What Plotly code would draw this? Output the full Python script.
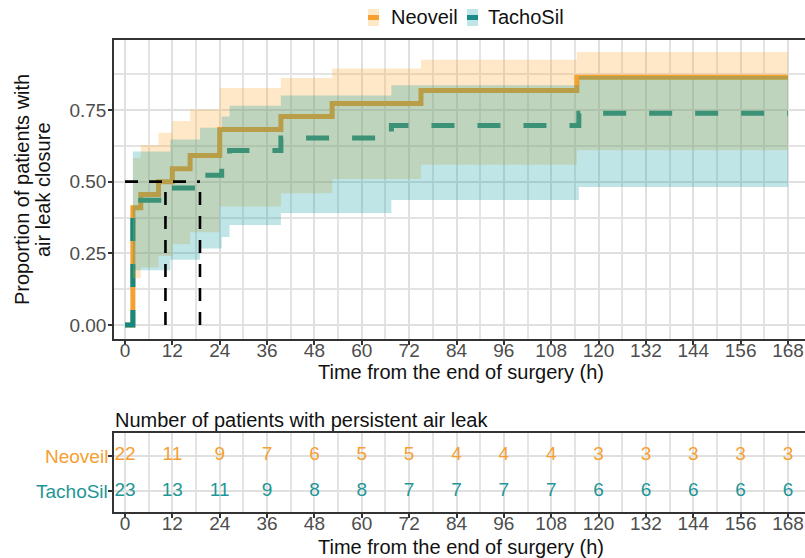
import plotly.graph_objects as go

# ---------------- data ----------------
groups = ["Neoveil", "TachoSil"]

neo_times = [0, 2, 4, 8.5, 12, 16.5, 24, 39.5, 52.5, 75, 114.5, 168]
neo_prop = [0, 0.409, 0.455, 0.500, 0.545, 0.591, 0.682, 0.727, 0.773, 0.818, 0.864, 0.864]
neo_lower = [0, 0.163, 0.201, 0.241, 0.282, 0.324, 0.413, 0.460, 0.509, 0.559, 0.610, 0.610]
neo_upper = [0, 0.583, 0.628, 0.671, 0.712, 0.752, 0.827, 0.862, 0.895, 0.925, 0.952, 0.952]

tacho_times = [0, 2, 11.5, 19, 24.5, 26.5, 39.5, 67.5, 115, 168]
tacho_prop = [0, 0.435, 0.478, 0.522, 0.565, 0.609, 0.652, 0.696, 0.739, 0.739]
tacho_lower = [0, 0.191, 0.228, 0.267, 0.307, 0.349, 0.391, 0.436, 0.481, 0.481]
tacho_upper = [0, 0.605, 0.647, 0.688, 0.727, 0.765, 0.801, 0.836, 0.869, 0.869]

median_times = [10.25, 19.0]
median_level = 0.5

risk_times = [0, 12, 24, 36, 48, 60, 72, 84, 96, 108, 120, 132, 144, 156, 168]
neo_risk = [22, 11, 9, 7, 6, 5, 5, 4, 4, 4, 3, 3, 3, 3, 3]
tacho_risk = [23, 13, 11, 9, 8, 8, 7, 7, 7, 7, 6, 6, 6, 6, 6]

y_ticks = [0, 0.25, 0.5, 0.75]
y_ticktext = ["0.00", "0.25", "0.50", "0.75"]

# ---------------- styling ----------------
W, H = 805, 558
FONT = "Liberation Sans, Arial, sans-serif"
ORANGE = "#F5A031"
TEAL = "#14897F"
TEAL_TXT = "#1F9696"
ORANGE_RIB = "rgba(255,165,40,0.26)"
TEAL_RIB = "rgba(0,150,160,0.25)"
GRID = "#E0E0E0"
GRID_MINOR = "#E4E4E4"
AXIS = "#333333"
TICKTXT = "#4D4D4D"


def px(x):
    return x / W


def py(y):
    return 1 - y / H


fig = go.Figure()

# step lines (drawn first, ribbons go on top as in the reference)
fig.add_trace(go.Scatter(x=neo_times, y=neo_prop, mode="lines",
                         line=dict(color=ORANGE, width=5, shape="hv"),
                         hoverinfo="skip", xaxis="x", yaxis="y"))
fig.add_trace(go.Scatter(x=tacho_times, y=tacho_prop, mode="lines",
                         line=dict(color=TEAL, width=5, shape="hv", dash="23px,23px"),
                         hoverinfo="skip", xaxis="x", yaxis="y"))

# confidence ribbons
for t, lo, up, col in [(neo_times, neo_lower, neo_upper, ORANGE_RIB),
                       (tacho_times, tacho_lower, tacho_upper, TEAL_RIB)]:
    fig.add_trace(go.Scatter(x=t, y=lo, mode="lines", line=dict(width=0, shape="hv"),
                             hoverinfo="skip", xaxis="x", yaxis="y"))
    fig.add_trace(go.Scatter(x=t, y=up, mode="lines", line=dict(width=0, shape="hv"),
                             fill="tonexty", fillcolor=col,
                             hoverinfo="skip", xaxis="x", yaxis="y"))

# median lines
fig.add_trace(go.Scatter(x=[0, max(median_times)], y=[median_level, median_level],
                         mode="lines", line=dict(color="black", width=2.6, dash="13px,11px"),
                         hoverinfo="skip", xaxis="x", yaxis="y"))
for m in median_times:
    fig.add_trace(go.Scatter(x=[m, m], y=[0, median_level], mode="lines",
                             line=dict(color="black", width=2.6, dash="13px,11px"),
                             hoverinfo="skip", xaxis="x", yaxis="y"))

# risk table numbers
fig.add_trace(go.Scatter(x=risk_times, y=[2] * len(risk_times), mode="text",
                         text=[str(v) for v in neo_risk],
                         textfont=dict(color=ORANGE, size=19, family=FONT),
                         hoverinfo="skip", xaxis="x2", yaxis="y2"))
fig.add_trace(go.Scatter(x=risk_times, y=[1] * len(risk_times), mode="text",
                         text=[str(v) for v in tacho_risk],
                         textfont=dict(color=TEAL_TXT, size=19, family=FONT),
                         hoverinfo="skip", xaxis="x2", yaxis="y2"))

xrange = [(114 - 125) / (663 / 168), (805 - 125) / (663 / 168)]

common_x = dict(range=xrange, tick0=0, dtick=12, ticks="outside", ticklen=4,
                tickwidth=1.5, tickcolor=AXIS, showline=True, linecolor=AXIS,
                linewidth=1.6, mirror=True, showgrid=True, gridcolor=GRID, gridwidth=2,
                minor=dict(tick0=0, dtick=6, showgrid=True, gridcolor=GRID_MINOR, gridwidth=1.6),
                zeroline=False, tickfont=dict(size=19, color=TICKTXT, family=FONT),
                ticklabelstandoff=-11,
                domain=[px(114), 1.0])

fig.update_layout(
    width=W, height=H, margin=dict(l=0, r=0, t=0, b=0),
    plot_bgcolor="white", paper_bgcolor="white", showlegend=False,
    font=dict(family=FONT, size=19, color=TICKTXT),
    xaxis=dict(anchor="y", **common_x),
    yaxis=dict(anchor="x", domain=[py(339), py(40)], range=[-0.0488, 0.9942],
               tickvals=y_ticks, ticktext=y_ticktext, ticks="outside", ticklen=4,
               tickwidth=1.5, tickcolor=AXIS, showline=True, linecolor=AXIS, linewidth=1.6,
               showgrid=True, gridcolor=GRID, gridwidth=2,
               minor=dict(dtick=0.125, tick0=0, showgrid=True, gridcolor=GRID_MINOR, gridwidth=1.6),
               zeroline=False, tickfont=dict(size=19, color=TICKTXT, family=FONT),
               ticklabelstandoff=-2),
    xaxis2=dict(anchor="y2", **common_x),
    yaxis2=dict(anchor="x2", domain=[py(512), py(433)], range=[0.405, 2.643],
                tickvals=[1, 2], showticklabels=False, ticks="outside", ticklen=4,
                tickwidth=1.5, tickcolor=AXIS, showline=True, linecolor=AXIS, linewidth=1.6,
                showgrid=True, gridcolor=GRID, gridwidth=2, zeroline=False),
)

BLACK = "#111111"
ann = []
# legend
ann.append(dict(x=px(389), y=py(17), text="Neoveil", xanchor="left", yanchor="middle"))
ann.append(dict(x=px(486), y=py(17), text="TachoSil", xanchor="left", yanchor="middle"))
# axis titles
ann.append(dict(x=px(461), y=py(372), text="Time from the end of surgery (h)",
                xanchor="center", yanchor="middle"))
ann.append(dict(x=px(461), y=py(547), text="Time from the end of surgery (h)",
                xanchor="center", yanchor="middle"))
ann.append(dict(x=px(22), y=py(190), text="Proportion of patients with", textangle=-90,
                xanchor="center", yanchor="middle"))
ann.append(dict(x=px(43), y=py(190), text="air leak closure", textangle=-90,
                xanchor="center", yanchor="middle"))
ann.append(dict(x=px(113), y=py(420), text="Number of patients with persistent air leak",
                xanchor="left", yanchor="middle"))
for a in ann:
    a.update(xref="paper", yref="paper", showarrow=False,
             font=dict(size=20, color=BLACK, family=FONT))
# risk table row labels
ann.append(dict(x=px(110), y=py(456), text=groups[0], xanchor="right", yanchor="middle",
                xref="paper", yref="paper", showarrow=False,
                font=dict(size=19, color=ORANGE, family=FONT)))
ann.append(dict(x=px(110), y=py(491), text=groups[1], xanchor="right", yanchor="middle",
                xref="paper", yref="paper", showarrow=False,
                font=dict(size=19, color=TEAL_TXT, family=FONT)))
fig.update_layout(annotations=ann)

# legend keys
shapes = []
for x0, rib, col in [(368, ORANGE_RIB, ORANGE), (467, TEAL_RIB, "#1A8A8A")]:
    shapes.append(dict(type="rect", xref="paper", yref="paper", x0=px(x0), x1=px(x0 + 11),
                       y0=py(26), y1=py(9), fillcolor=rib, line=dict(width=0)))
    shapes.append(dict(type="rect", xref="paper", yref="paper", x0=px(x0), x1=px(x0 + 11),
                       y0=py(20), y1=py(15), fillcolor=col, line=dict(width=0)))
fig.update_layout(shapes=shapes)

fig.write_html("out.html")
